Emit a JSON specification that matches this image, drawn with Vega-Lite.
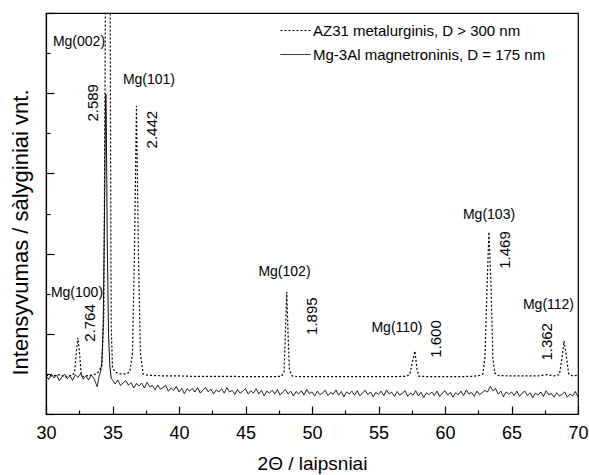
{
  "$schema": "https://vega.github.io/schema/vega-lite/v6.json",
  "width": 532,
  "height": 401,
  "autosize": {"type": "none"},
  "padding": {"left": 46, "top": 13, "right": 11, "bottom": 61},
  "background": "white",
  "config": {
    "font": "Liberation Sans",
    "view": {"stroke": "black", "strokeWidth": 1.2},
    "axis": {"domainColor": "black", "domainWidth": 1.2, "tickColor": "black", "tickWidth": 1.2, "labelColor": "black", "titleColor": "black", "titleFontWeight": "normal", "grid": false}
  },
  "datasets": {
    "az31": [
      {"x": 30.0, "y": 0.97}, {"x": 30.5, "y": 0.95}, {"x": 31.0, "y": 0.98}, {"x": 31.5, "y": 0.92}, {"x": 31.8, "y": 0.96},
      {"x": 32.0, "y": 0.97}, {"x": 32.15, "y": 1.05}, {"x": 32.3, "y": 1.6}, {"x": 32.4, "y": 1.9}, {"x": 32.5, "y": 1.6},
      {"x": 32.65, "y": 1.0}, {"x": 32.8, "y": 0.93}, {"x": 33.0, "y": 0.95}, {"x": 33.5, "y": 0.97}, {"x": 33.8, "y": 1.0},
      {"x": 34.0, "y": 1.08}, {"x": 34.2, "y": 1.2}, {"x": 34.35, "y": 2.5}, {"x": 34.47, "y": 10.5}, {"x": 34.5, "y": 20},
      {"x": 34.8, "y": 20}, {"x": 34.82, "y": 10.5}, {"x": 34.9, "y": 2.2}, {"x": 35.0, "y": 1.15}, {"x": 35.2, "y": 1.05},
      {"x": 35.5, "y": 1.0}, {"x": 36.0, "y": 1.0}, {"x": 36.3, "y": 1.05}, {"x": 36.5, "y": 1.5}, {"x": 36.65, "y": 4.0},
      {"x": 36.8, "y": 7.68}, {"x": 36.95, "y": 4.0}, {"x": 37.1, "y": 1.5}, {"x": 37.3, "y": 1.0}, {"x": 37.6, "y": 0.97},
      {"x": 38, "y": 0.96}, {"x": 39, "y": 0.95}, {"x": 40, "y": 0.95}, {"x": 41, "y": 0.94}, {"x": 42, "y": 0.94},
      {"x": 43, "y": 0.94}, {"x": 44, "y": 0.94}, {"x": 45, "y": 0.93}, {"x": 46, "y": 0.93}, {"x": 47, "y": 0.93},
      {"x": 47.7, "y": 0.94}, {"x": 47.9, "y": 1.05}, {"x": 48.0, "y": 2.0}, {"x": 48.1, "y": 3.04}, {"x": 48.2, "y": 2.0},
      {"x": 48.3, "y": 1.1}, {"x": 48.5, "y": 0.95}, {"x": 49, "y": 0.93}, {"x": 50, "y": 0.93}, {"x": 51, "y": 0.93},
      {"x": 52, "y": 0.93}, {"x": 53, "y": 0.93}, {"x": 54, "y": 0.93}, {"x": 55, "y": 0.93}, {"x": 56, "y": 0.93},
      {"x": 57, "y": 0.94}, {"x": 57.35, "y": 0.98}, {"x": 57.55, "y": 1.3}, {"x": 57.74, "y": 1.57}, {"x": 57.9, "y": 1.1},
      {"x": 58.05, "y": 0.94}, {"x": 59, "y": 0.93}, {"x": 60, "y": 0.93}, {"x": 61, "y": 0.93}, {"x": 62, "y": 0.94},
      {"x": 62.6, "y": 0.96}, {"x": 62.85, "y": 1.0}, {"x": 63.0, "y": 1.4}, {"x": 63.15, "y": 3.0}, {"x": 63.3, "y": 4.54},
      {"x": 63.45, "y": 3.3}, {"x": 63.6, "y": 1.4}, {"x": 63.75, "y": 1.02}, {"x": 64.0, "y": 0.96}, {"x": 65, "y": 0.95},
      {"x": 66, "y": 0.95}, {"x": 67, "y": 0.95}, {"x": 67.7, "y": 0.98}, {"x": 68.2, "y": 0.95}, {"x": 68.6, "y": 0.98},
      {"x": 68.8, "y": 1.4}, {"x": 68.95, "y": 1.82}, {"x": 69.1, "y": 1.5}, {"x": 69.3, "y": 1.0}, {"x": 69.6, "y": 0.95},
      {"x": 70.0, "y": 0.97}
    ],
    "mg3al": [
      {"x": 30.0, "y": 0.96}, {"x": 30.2, "y": 0.86}, {"x": 30.4, "y": 1.0}, {"x": 30.6, "y": 0.9}, {"x": 30.8, "y": 0.97},
      {"x": 31.0, "y": 0.83}, {"x": 31.2, "y": 0.93}, {"x": 31.4, "y": 0.99}, {"x": 31.6, "y": 0.88}, {"x": 31.8, "y": 0.95},
      {"x": 32.0, "y": 0.84}, {"x": 32.2, "y": 0.98}, {"x": 32.4, "y": 0.91}, {"x": 32.6, "y": 1.01}, {"x": 32.8, "y": 0.87},
      {"x": 33.0, "y": 0.94}, {"x": 33.2, "y": 0.85}, {"x": 33.4, "y": 0.97}, {"x": 33.6, "y": 0.89}, {"x": 33.85, "y": 0.68},
      {"x": 34.0, "y": 0.95}, {"x": 34.1, "y": 1.05}, {"x": 34.2, "y": 1.3}, {"x": 34.3, "y": 2.2}, {"x": 34.4, "y": 5.0},
      {"x": 34.47, "y": 7.6}, {"x": 34.5, "y": 7.98}, {"x": 34.53, "y": 7.5}, {"x": 34.6, "y": 4.5}, {"x": 34.7, "y": 2.0},
      {"x": 34.8, "y": 1.2}, {"x": 34.9, "y": 0.9},
      {"x": 35.0, "y": 0.85}, {"x": 35.2, "y": 0.75}, {"x": 35.4, "y": 0.85}, {"x": 35.6, "y": 0.71}, {"x": 35.8, "y": 0.78},
      {"x": 36.0, "y": 0.83}, {"x": 36.2, "y": 0.72}, {"x": 36.4, "y": 0.78}, {"x": 36.6, "y": 0.65}, {"x": 36.8, "y": 0.76},
      {"x": 37.0, "y": 0.7}, {"x": 37.2, "y": 0.77}, {"x": 37.4, "y": 0.65}, {"x": 37.6, "y": 0.79}, {"x": 37.8, "y": 0.68},
      {"x": 38.0, "y": 0.71}, {"x": 38.2, "y": 0.6}, {"x": 38.4, "y": 0.72}, {"x": 38.6, "y": 0.62}, {"x": 38.8, "y": 0.66},
      {"x": 39.0, "y": 0.71}, {"x": 39.2, "y": 0.57}, {"x": 39.4, "y": 0.65}, {"x": 39.6, "y": 0.59}, {"x": 39.8, "y": 0.69},
      {"x": 40.0, "y": 0.55}, {"x": 40.2, "y": 0.64}, {"x": 40.4, "y": 0.51}, {"x": 40.6, "y": 0.63}, {"x": 40.8, "y": 0.57},
      {"x": 41.0, "y": 0.64}, {"x": 41.2, "y": 0.55}, {"x": 41.4, "y": 0.66}, {"x": 41.6, "y": 0.52}, {"x": 41.8, "y": 0.6},
      {"x": 42.0, "y": 0.66}, {"x": 42.2, "y": 0.55}, {"x": 42.4, "y": 0.62}, {"x": 42.6, "y": 0.5}, {"x": 42.8, "y": 0.6},
      {"x": 43.0, "y": 0.55}, {"x": 43.2, "y": 0.63}, {"x": 43.4, "y": 0.52}, {"x": 43.6, "y": 0.66}, {"x": 43.8, "y": 0.55},
      {"x": 44.0, "y": 0.59}, {"x": 44.2, "y": 0.49}, {"x": 44.4, "y": 0.61}, {"x": 44.6, "y": 0.52}, {"x": 44.8, "y": 0.57},
      {"x": 45.0, "y": 0.63}, {"x": 45.2, "y": 0.5}, {"x": 45.4, "y": 0.58}, {"x": 45.6, "y": 0.52}, {"x": 45.8, "y": 0.63},
      {"x": 46.0, "y": 0.5}, {"x": 46.2, "y": 0.59}, {"x": 46.4, "y": 0.45}, {"x": 46.6, "y": 0.57}, {"x": 46.8, "y": 0.52},
      {"x": 47.0, "y": 0.59}, {"x": 47.2, "y": 0.5}, {"x": 47.4, "y": 0.61}, {"x": 47.6, "y": 0.47}, {"x": 47.8, "y": 0.55},
      {"x": 48.0, "y": 0.61}, {"x": 48.2, "y": 0.5}, {"x": 48.4, "y": 0.57}, {"x": 48.6, "y": 0.45}, {"x": 48.8, "y": 0.56},
      {"x": 49.0, "y": 0.5}, {"x": 49.2, "y": 0.58}, {"x": 49.4, "y": 0.47}, {"x": 49.6, "y": 0.61}, {"x": 49.8, "y": 0.51},
      {"x": 50.0, "y": 0.55}, {"x": 50.2, "y": 0.45}, {"x": 50.4, "y": 0.57}, {"x": 50.6, "y": 0.48}, {"x": 50.8, "y": 0.53},
      {"x": 51.0, "y": 0.59}, {"x": 51.2, "y": 0.46}, {"x": 51.4, "y": 0.54}, {"x": 51.6, "y": 0.49}, {"x": 51.8, "y": 0.6},
      {"x": 52.0, "y": 0.47}, {"x": 52.2, "y": 0.56}, {"x": 52.4, "y": 0.43}, {"x": 52.6, "y": 0.55}, {"x": 52.8, "y": 0.5},
      {"x": 53.0, "y": 0.57}, {"x": 53.2, "y": 0.47}, {"x": 53.4, "y": 0.58}, {"x": 53.6, "y": 0.45}, {"x": 53.8, "y": 0.53},
      {"x": 54.0, "y": 0.59}, {"x": 54.2, "y": 0.48}, {"x": 54.4, "y": 0.55}, {"x": 54.6, "y": 0.43}, {"x": 54.8, "y": 0.54},
      {"x": 55.0, "y": 0.49}, {"x": 55.2, "y": 0.57}, {"x": 55.4, "y": 0.46}, {"x": 55.6, "y": 0.6}, {"x": 55.8, "y": 0.5},
      {"x": 56.0, "y": 0.54}, {"x": 56.2, "y": 0.44}, {"x": 56.4, "y": 0.56}, {"x": 56.6, "y": 0.47}, {"x": 56.8, "y": 0.52},
      {"x": 57.0, "y": 0.58}, {"x": 57.2, "y": 0.44}, {"x": 57.4, "y": 0.52}, {"x": 57.6, "y": 0.47}, {"x": 57.8, "y": 0.58},
      {"x": 58.0, "y": 0.45}, {"x": 58.2, "y": 0.54}, {"x": 58.4, "y": 0.41}, {"x": 58.6, "y": 0.53}, {"x": 58.8, "y": 0.48},
      {"x": 59.0, "y": 0.55}, {"x": 59.2, "y": 0.46}, {"x": 59.4, "y": 0.57}, {"x": 59.6, "y": 0.44}, {"x": 59.8, "y": 0.52},
      {"x": 60.0, "y": 0.58}, {"x": 60.2, "y": 0.47}, {"x": 60.4, "y": 0.54}, {"x": 60.6, "y": 0.42}, {"x": 60.8, "y": 0.53},
      {"x": 61.0, "y": 0.48}, {"x": 61.2, "y": 0.57}, {"x": 61.4, "y": 0.46}, {"x": 61.6, "y": 0.6}, {"x": 61.8, "y": 0.5},
      {"x": 62.0, "y": 0.54}, {"x": 62.2, "y": 0.44}, {"x": 62.4, "y": 0.57}, {"x": 62.6, "y": 0.48}, {"x": 62.8, "y": 0.53},
      {"x": 63.0, "y": 0.59}, {"x": 63.2, "y": 0.55}, {"x": 63.4, "y": 0.69}, {"x": 63.6, "y": 0.58}, {"x": 63.8, "y": 0.64},
      {"x": 64.0, "y": 0.5}, {"x": 64.2, "y": 0.57}, {"x": 64.4, "y": 0.43}, {"x": 64.6, "y": 0.55}, {"x": 64.8, "y": 0.49},
      {"x": 65.0, "y": 0.55}, {"x": 65.2, "y": 0.46}, {"x": 65.4, "y": 0.57}, {"x": 65.6, "y": 0.44}, {"x": 65.8, "y": 0.52},
      {"x": 66.0, "y": 0.57}, {"x": 66.2, "y": 0.46}, {"x": 66.4, "y": 0.53}, {"x": 66.6, "y": 0.41}, {"x": 66.8, "y": 0.52},
      {"x": 67.0, "y": 0.47}, {"x": 67.2, "y": 0.55}, {"x": 67.4, "y": 0.44}, {"x": 67.6, "y": 0.58}, {"x": 67.8, "y": 0.48},
      {"x": 68.0, "y": 0.51}, {"x": 68.2, "y": 0.42}, {"x": 68.4, "y": 0.53}, {"x": 68.6, "y": 0.45}, {"x": 68.8, "y": 0.49},
      {"x": 69.0, "y": 0.55}, {"x": 69.2, "y": 0.42}, {"x": 69.4, "y": 0.5}, {"x": 69.6, "y": 0.45}, {"x": 69.8, "y": 0.56},
      {"x": 70.0, "y": 0.43}
    ],
    "peaks": [
      {"x": 32.48, "y": 9.28, "t": "Mg(002)"},
      {"x": 37.74, "y": 8.33, "t": "Mg(101)"},
      {"x": 32.33, "y": 3.02, "t": "Mg(100)"},
      {"x": 47.93, "y": 3.54, "t": "Mg(102)"},
      {"x": 56.39, "y": 2.14, "t": "Mg(110)"},
      {"x": 63.31, "y": 4.96, "t": "Mg(103)"},
      {"x": 67.78, "y": 2.72, "t": "Mg(112)"}
    ],
    "dvals": [
      {"x": 33.57, "y": 7.76, "t": "2.589"},
      {"x": 38.0, "y": 7.09, "t": "2.442"},
      {"x": 33.3, "y": 2.27, "t": "2.764"},
      {"x": 50.0, "y": 2.44, "t": "1.895"},
      {"x": 59.32, "y": 1.87, "t": "1.600"},
      {"x": 64.5, "y": 4.09, "t": "1.469"},
      {"x": 67.67, "y": 1.8, "t": "1.362"}
    ]
  },
  "encoding": {
    "x": {
      "field": "x", "type": "quantitative",
      "scale": {"domain": [30, 70], "nice": false, "zero": false},
      "axis": {
        "values": [30, 32.5, 35, 37.5, 40, 42.5, 45, 47.5, 50, 52.5, 55, 57.5, 60, 62.5, 65, 67.5, 70],
        "labelExpr": "datum.value % 5 === 0 ? format(datum.value, 'd') : ''",
        "tickSize": {"condition": {"test": "datum.value % 5 === 0", "value": -8}, "value": -4},
        "labelFontSize": 18, "labelPadding": 18, "labelFlush": false, "labelOverlap": false,
        "title": "2Θ / laipsniai", "titleFontSize": 19, "titlePadding": 8
      }
    },
    "y": {
      "field": "y", "type": "quantitative",
      "scale": {"domain": [0, 10], "nice": false, "zero": false},
      "axis": {
        "values": [0, 1, 2, 3, 4, 5, 6, 7, 8, 9, 10],
        "labels": false,
        "tickSize": {"condition": {"test": "datum.value % 2 === 0", "value": -8}, "value": -4},
        "title": "Intensyvumas / sàlyginiai vnt.", "titleFontSize": 22, "titlePadding": 13, "titleY": 219
      }
    }
  },
  "layer": [
    {
      "data": {"name": "az31"},
      "mark": {"type": "line", "color": "black", "strokeWidth": 1.2, "clip": true},
      "encoding": {
        "strokeDash": {
          "datum": "AZ31 metalurginis, D > 300 nm",
          "scale": {"domain": ["AZ31 metalurginis, D > 300 nm", "Mg-3Al magnetroninis, D = 175 nm"], "range": [[2, 2], [1, 0]]},
          "legend": {
            "orient": "none", "legendX": 234, "legendY": 2, "title": null,
            "symbolType": "stroke", "symbolSize": 900, "symbolStrokeWidth": 1, "symbolStrokeColor": "black",
            "labelFontSize": 15, "labelColor": "black", "labelOffset": 2, "labelLimit": 400, "rowPadding": 0
          }
        }
      }
    },
    {
      "data": {"name": "mg3al"},
      "mark": {"type": "line", "color": "black", "strokeWidth": 1, "clip": true},
      "encoding": {
        "strokeDash": {"datum": "Mg-3Al magnetroninis, D = 175 nm"}
      }
    },
    {
      "data": {"name": "peaks"},
      "mark": {"type": "text", "fontSize": 14, "color": "black", "align": "center", "baseline": "middle"},
      "encoding": {"text": {"field": "t", "type": "nominal"}}
    },
    {
      "data": {"name": "dvals"},
      "mark": {"type": "text", "fontSize": 15, "color": "black", "align": "center", "baseline": "middle", "angle": 270},
      "encoding": {"text": {"field": "t", "type": "nominal"}}
    }
  ]
}
